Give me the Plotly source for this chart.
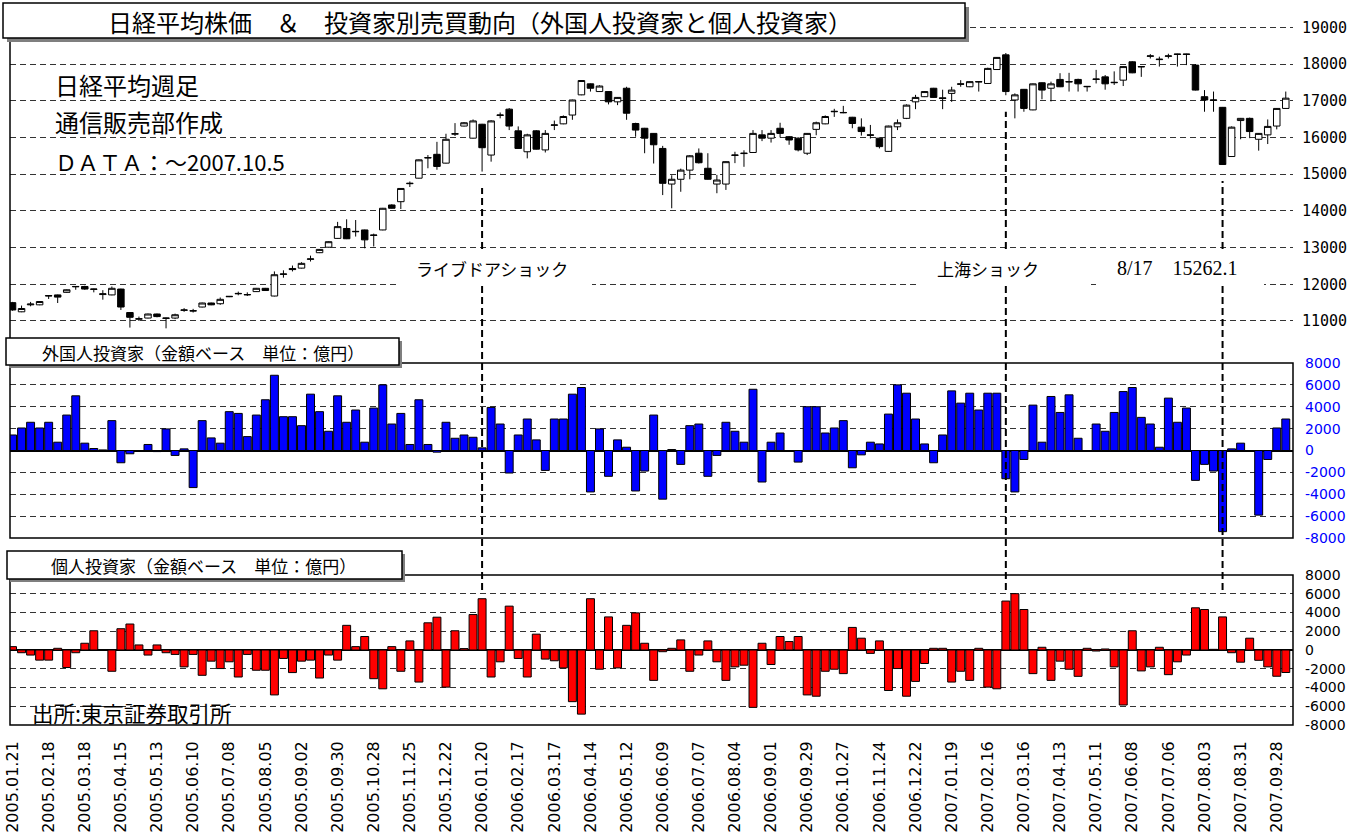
import plotly.graph_objects as go

# ---------------- data ----------------
week_labels = ["2005.01.21", "2005.02.18", "2005.03.18", "2005.04.15", "2005.05.13", "2005.06.10",
               "2005.07.08", "2005.08.05", "2005.09.02", "2005.09.30", "2005.10.28", "2005.11.25",
               "2005.12.22", "2006.01.20", "2006.02.17", "2006.03.17", "2006.04.14", "2006.05.12",
               "2006.06.09", "2006.07.07", "2006.08.04", "2006.09.01", "2006.09.29", "2006.10.27",
               "2006.11.24", "2006.12.22", "2007.01.19", "2007.02.16", "2007.03.16", "2007.04.13",
               "2007.05.11", "2007.06.08", "2007.07.06", "2007.08.03", "2007.08.31", "2007.09.28"]

opens = [11500, 11250, 11440, 11440, 11680, 11710, 11780, 11930, 11940, 11860,
         11720, 11710, 11870, 11230, 11050, 11080, 11190, 11070, 11080, 11290,
         11270, 11380, 11490, 11470, 11660, 11740, 11710, 11800, 11890, 11680,
         12270, 12430, 12440, 12680, 12860, 13010, 13250, 13520, 13430, 13480,
         13330, 13480, 14160, 14250, 14740, 14890, 15440, 15540, 15300, 16090,
         16310, 15980, 16360, 15520, 16600, 16770, 16180, 15610, 16180, 15660,
         16330, 16370, 16610, 17160, 17460, 17250, 17250, 16970, 17340, 16380,
         16250, 16110, 15700, 14730, 14860, 15110, 15570, 15160, 14730, 14730,
         15510, 15560, 15590, 16070, 15980, 16250, 16020, 15980, 15570, 16220,
         16370, 16700, 16670, 16550, 16280, 16070, 15980, 15620, 16290, 16520,
         16970, 17110, 17340, 17080, 17200, 17460, 17380, 17510, 17470, 17850,
         18250, 17020, 17310, 16750, 17490, 17340, 17580, 17510, 17580, 17380,
         17580, 17650, 17490, 17560, 18060, 17920, 18210, 18120, 18210, 18260,
         18260, 17970, 17110, 17010, 16820, 15480, 16460, 16520, 15950, 16070,
         16310, 16790]
highs = [11520, 11420, 11520, 11540, 11700, 11720, 11860, 11950, 11960, 11880,
         11840, 11940, 11880, 11240, 11120, 11200, 11200, 11090, 11200, 11350,
         11330, 11500, 11500, 11640, 11680, 11800, 11780, 11900, 11900, 12350,
         12380, 12510, 12600, 12780, 12960, 13170, 13700, 13770, 13750, 13490,
         13380, 14080, 14180, 14620, 14800, 15400, 15520, 15880, 16100, 16390,
         16420, 16490, 16370, 16470, 16680, 16800, 16300, 16100, 16200, 16200,
         16460, 16600, 17030, 17560, 17470, 17420, 17260, 17100, 17380, 16400,
         16260, 16120, 15770, 14970, 15150, 15520, 15700, 15570, 14980, 15350,
         15610, 15650, 16200, 16200, 16200, 16400, 16040, 16000, 16120, 16430,
         16600, 16780, 16860, 16560, 16520, 16340, 16000, 16320, 16490, 16900,
         17160, 17260, 17350, 17300, 17380, 17560, 17530, 17530, 17900, 18190,
         18300, 17200, 17320, 17470, 17500, 17520, 17750, 17760, 17600, 17400,
         17840, 17700, 17800, 17940, 18080, 17940, 18270, 18200, 18280, 18280,
         18280, 18000, 17290, 17250, 16830, 16300, 16530, 16540, 16120, 16490,
         16800, 17250]
lows = [11280, 11240, 11400, 11430, 11600, 11490, 11770, 11850, 11850, 11780,
        11580, 11700, 11300, 10820, 11000, 11070, 11100, 10800, 11050, 11250,
        11230, 11370, 11430, 11440, 11650, 11700, 11680, 11790, 11820, 11670,
        12180, 12350, 12430, 12620, 12850, 13000, 13240, 13230, 13300, 12980,
        13030, 13470, 14060, 14050, 14650, 14880, 15160, 15120, 15290, 16040,
        16300, 15970, 15070, 15340, 16520, 16200, 15690, 15430, 15670, 15590,
        16200, 16360, 16480, 17150, 17250, 17240, 16900, 16880, 16480, 16020,
        15570, 15290, 14430, 14070, 14520, 14860, 15290, 14850, 14480, 14570,
        15300, 15200, 15580, 15900, 15860, 16000, 15800, 15620, 15520, 16060,
        16360, 16560, 16660, 16250, 16050, 15970, 15700, 15610, 16200, 16500,
        16770, 17100, 17080, 16770, 16970, 17380, 17370, 17250, 17460, 17840,
        17150, 16520, 16700, 16740, 17040, 16980, 17370, 17250, 17250, 17250,
        17470, 17300, 17430, 17400, 17750, 17650, 18150, 17930, 18150, 17930,
        17970, 17280, 16700, 16700, 15260, 15470, 15950, 15980, 15640, 15820,
        16220, 16780]
closes = [11300, 11340, 11460, 11530, 11690, 11650, 11850, 11940, 11870, 11870,
          11740, 11890, 11380, 11100, 11060, 11190, 11120, 11080, 11170, 11300,
          11280, 11490, 11440, 11590, 11670, 11750, 11720, 11890, 11830, 12260,
          12280, 12400, 12570, 12690, 12950, 13160, 13570, 13240, 13440, 13210,
          13340, 14070, 14070, 14610, 14750, 15390, 15450, 15210, 15950, 16100,
          16400, 16450, 15720, 16450, 16610, 16310, 15700, 16070, 15680, 16110,
          16340, 16570, 17020, 17550, 17340, 17400, 16970, 17090, 16660, 16200,
          15980, 15800, 14750, 14860, 15110, 15500, 15310, 14860, 14840, 15340,
          15520, 15570, 16110, 15980, 16110, 16110, 15930, 15660, 16110, 16400,
          16570, 16710, 16680, 16380, 16160, 16060, 15750, 16310, 16400, 16880,
          17090, 17250, 17090, 17060, 17290, 17450, 17520, 17520, 17880, 18180,
          17250, 17160, 16790, 17460, 17290, 17460, 17380, 17520, 17460, 17390,
          17590, 17460, 17500, 17930, 17760, 17930, 18220, 18130, 18220, 18270,
          18270, 17290, 17020, 17020, 15262.1, 16280, 16520, 16160, 16110, 16300,
          16790, 17070]

foreign = [1420, 2060, 2580, 2060, 2580, 760, 3240, 5000, 670, 180,
           50, 2730, -1120, -300, 0, 550, -100, 1970, -450, 150,
           -3390, 2730, 1150, 670, 3550, 3390, 1270, 3240, 4640, 6880,
           3090, 3090, 2270, 5150, 3550, 1760, 5000, 2580, 3700, 760,
           3880, 6000, 2420, 3390, 550, 4640, 550, -150, 2580, 1120,
           1420, 1210, 240, 3940, 2420, -2060, 1420, 2880, 970, -1820,
           2880, 2880, 5150, 5760, -3790, 1970, -2360, 970, 300, -3700,
           -1880, 3240, -4450, 90, -1270, 2270, 2420, -2360, -450, 2580,
           1760, 760, 5600, -2880, 760, 1600, 0, -1060, 4000, 4000,
           1600, 2060, 2730, -1580, -400, 760, 600, 3330, 6000, 5240,
           2880, 600, -1120, 1420, 5450, 4330, 5240, 3700, 5240, 5240,
           -2580, -3790, -820, 4150, 760, 4940, 3480, 5090, 1120, 0,
           2420, 1760, 3480, 5390, 5760, 3030, 2420, 300, 4790, 2580,
           3880, -2730, -1270, -1880, -7420, 150, 670, 0, -5910, -820,
           2060, 2880]

individual = [360, -290, -540, -1080, -1080, 180, -1870, -290, 720, 2050,
              0, -2270, 2270, 2770, 540, -540, 540, -290, -470, -1800,
              -470, -2700, -1190, -1980, -1260, -2880, -470, -2160, -2160, -4790,
              -900, -2410, -1190, -1080, -2990, -540, -1080, 2630, 360, 1440,
              -3060, -4140, 360, -2270, 970, -3420, 2900, 3500, -3960, 2050,
              150, 3780, 5470, -2880, -1260, 4680, -900, -2880, 1690, -970,
              -1150, -1910, -5510, -6840, 5470, -2050, 3530, -1910, 2630, 3960,
              720, -3240, -180, 180, 1080, -2270, -540, 970, -1260, -3240,
              -1800, -1620, -6120, 720, -1550, 1440, 900, 1440, -4790, -4930,
              -2270, -2050, -2520, 2410, 1260, -360, 970, -4320, -1980, -4930,
              -3350, -1440, 180, 180, -3420, -2270, -3240, 180, -3960, -4140,
              5220, 6010, 4320, -2520, 290, -3240, -1190, -2050, -2810, 180,
              -110, 110, -1800, -5870, 2050, -2230, -1800, 290, -2630, -1260,
              -540, 4500, 4320, 70, 3530, -290, -1300, 1260, -1100, -1800,
              -2800, -2400]

price_ticks = [11000, 12000, 13000, 14000, 15000, 16000, 17000, 18000, 19000]
price_tick_text = ["11000", "12000", "13000", "14000", "15000", "16000", "17000", "18000", "19000"]
flow_ticks = [-8000, -6000, -4000, -2000, 0, 2000, 4000, 6000, 8000]
flow_tick_text = ["-8000", "-6000", "-4000", "-2000", "0", "2000", "4000", "6000", "8000"]

event_index = [52, 110, 134]
event_labels = ["ライブドアショック", "上海ショック", "8/17　15262.1"]

chart_title = "日経平均株価　＆　投資家別売買動向（外国人投資家と個人投資家）"
foreign_title = "外国人投資家（金額ベース　単位：億円）"
individual_title = "個人投資家（金額ベース　単位：億円）"
notes = ["日経平均週足", "通信販売部作成", "ＤＡＴＡ：～2007.10.5"]
source_note = "出所:東京証券取引所"

# ---------------- geometry helpers ----------------
W, H = 1369, 835
L_PX, R_PX, T_PX, B_PX = 10, 1293, 20, 725


def xp(px):
    return (px - L_PX) / (R_PX - L_PX)


def yp(py):
    return (B_PX - py) / (B_PX - T_PX)


price_dom = [yp(340), yp(20)]
price_rng = [10482, 19199]
foreign_dom = [yp(538), yp(363)]
indiv_dom = [yp(725), yp(575)]


def price_to_paper(p):
    return price_dom[0] + (p - price_rng[0]) / (price_rng[1] - price_rng[0]) * (price_dom[1] - price_dom[0])


idx = list(range(len(opens)))
tickvals = list(range(0, 4 * len(week_labels), 4))

JP = "Noto Sans CJK JP"
GRID = dict(showgrid=True, gridcolor="#333333", gridwidth=1.2, griddash="6px,4px")

fig = go.Figure()
fig.add_trace(go.Candlestick(
    x=idx, open=opens, high=highs, low=lows, close=closes,
    increasing=dict(fillcolor="white", line=dict(color="black", width=1)),
    decreasing=dict(fillcolor="black", line=dict(color="black", width=1)),
    whiskerwidth=0, xaxis="x", yaxis="y", showlegend=False, hoverinfo="skip"))
fig.add_trace(go.Bar(
    x=idx, y=foreign, marker=dict(color="#0000FF", line=dict(color="black", width=1)),
    xaxis="x", yaxis="y2", showlegend=False, hoverinfo="skip"))
fig.add_trace(go.Bar(
    x=idx, y=individual, marker=dict(color="#FF0000", line=dict(color="black", width=1)),
    xaxis="x", yaxis="y3", showlegend=False, hoverinfo="skip"))

shapes = []
# left border of price panel
shapes.append(dict(type="line", xref="paper", yref="paper", x0=0, x1=0, y0=yp(340), y1=yp(20),
                   line=dict(color="black", width=1.5), layer="above"))
# event dashed lines
for i in event_index:
    top = price_to_paper(lows[i] - 450)
    shapes.append(dict(type="line", xref="x", yref="paper", x0=i, x1=i, y0=yp(590), y1=top,
                       line=dict(color="black", width=2, dash="7px,4px"), layer="above"))
# frames of the flow panels
for ax in ["y2", "y3"]:
    shapes.append(dict(type="rect", xref="paper", yref=ax + " domain", x0=0, x1=1, y0=0, y1=1,
                       line=dict(color="black", width=1.5), fillcolor="rgba(0,0,0,0)", layer="above"))
# white boxes behind event labels
for (x0, x1) in [(398, 592), (918, 1091), (1096, 1264)]:
    shapes.append(dict(type="rect", xref="paper", yref="paper", x0=xp(x0), x1=xp(x1), y0=yp(286), y1=yp(249),
                       line=dict(width=0), fillcolor="white", layer="above"))


def boxed(x0, y0, x1, y1, off=4):
    shapes.append(dict(type="rect", xref="paper", yref="paper", x0=xp(x0 + off), x1=xp(x1 + off),
                       y0=yp(y1 + off), y1=yp(y0 + off), line=dict(width=0), fillcolor="#7f7f7f", layer="above"))
    shapes.append(dict(type="rect", xref="paper", yref="paper", x0=xp(x0), x1=xp(x1),
                       y0=yp(y1), y1=yp(y0), line=dict(color="black", width=1.5), fillcolor="white", layer="above"))


boxed(3, 3, 965, 38)
boxed(6, 338, 399, 365, off=3)
boxed(7, 551, 402, 579, off=3)

annotations = []


def txt(text, px, py, size, xanchor="center", family=JP, color="black"):
    annotations.append(dict(text=text, x=xp(px), y=yp(py), xref="paper", yref="paper", showarrow=False,
                            xanchor=xanchor, yanchor="middle", font=dict(family=family, size=size, color=color)))


txt(chart_title, 480, 21, 24)
txt(foreign_title, 203, 352, 17)
txt(individual_title, 203, 565, 17)
txt(notes[0], 53, 84, 24, xanchor="left")
txt(notes[1], 53, 122, 24, xanchor="left")
txt(notes[2], 53, 161, 22, xanchor="left")
txt(source_note, 30, 712, 21.5, xanchor="left")
txt(event_labels[0], 492, 268, 17)
txt(event_labels[1], 988, 268, 17)
txt(event_labels[2], 1177, 268, 20, family="Liberation Serif")

fig.update_layout(
    width=W, height=H,
    margin=dict(l=L_PX, r=W - R_PX, t=T_PX, b=H - B_PX, autoexpand=False),
    paper_bgcolor="white", plot_bgcolor="white",
    showlegend=False, bargap=0.12, boxgap=0.2, boxgroupgap=0.1,
    font=dict(family=JP, color="black"),
    xaxis=dict(domain=[0, 1], range=[-0.28, 141.8], anchor="y3", tickvals=tickvals, ticktext=week_labels,
               tickangle=-90, tickfont=dict(family="DejaVu Sans", size=16, color="black"),
               showgrid=False, zeroline=False, showline=False, ticks="", ticklabelstandoff=12,
               rangeslider=dict(visible=False)),
    yaxis=dict(domain=price_dom, range=price_rng, side="right", anchor="x", tickvals=price_ticks,
               ticktext=price_tick_text, tickfont=dict(family="DejaVu Sans Mono", size=15, color="black"),
               zeroline=False, showline=False, ticks="", ticklabelstandoff=8, **GRID),
    yaxis2=dict(domain=foreign_dom, range=[-8000, 8000], side="right", anchor="x", tickvals=flow_ticks,
                ticktext=flow_tick_text, tickfont=dict(family="DejaVu Sans", size=14, color="#0000FF"),
                zeroline=True, zerolinecolor="black", zerolinewidth=1.5, showline=False, ticks="",
                ticklabelstandoff=11, **GRID),
    yaxis3=dict(domain=indiv_dom, range=[-8000, 8000], side="right", anchor="x", tickvals=flow_ticks,
                ticktext=flow_tick_text, tickfont=dict(family="DejaVu Sans", size=14, color="black"),
                zeroline=True, zerolinecolor="black", zerolinewidth=1.5, showline=False, ticks="",
                ticklabelstandoff=11, **GRID),
    shapes=shapes, annotations=annotations,
)

fig.write_html("out.html", config={"displayModeBar": False},
               post_script="document.body.style.margin='0';")
